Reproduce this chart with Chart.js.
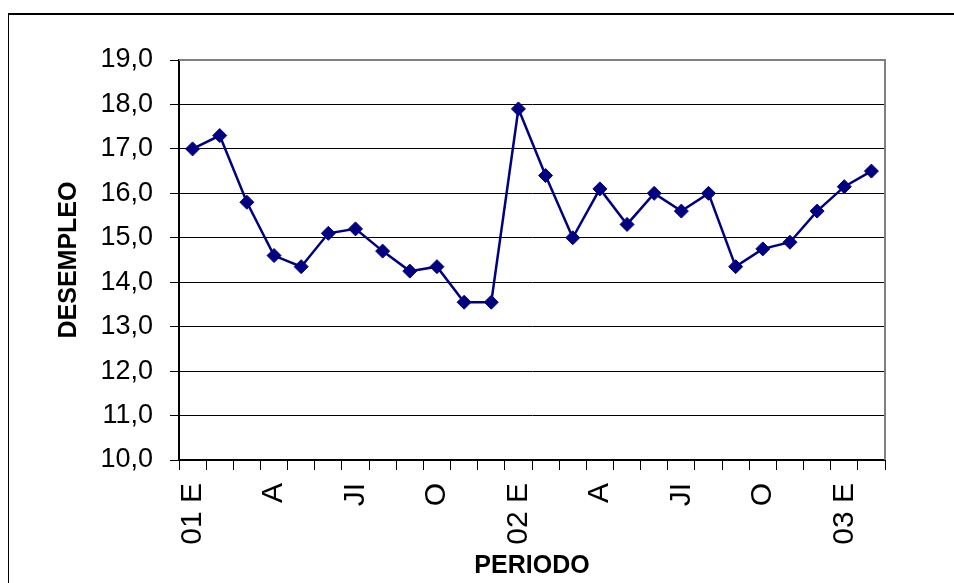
<!DOCTYPE html>
<html>
<head>
<meta charset="utf-8">
<script src="https://cdn.jsdelivr.net/npm/chart.js@4"></script>
<style>
  body { margin: 0; background: #fff; }
  #wrap { position: relative; width: 954px; height: 583px; overflow: hidden; }
  #frame { position: absolute; left: 8px; top: 13px; width: 1000px; height: 600px;
           border-left: 1px solid #000; border-top: 2px solid #000; }
  #desempleoChart { position: absolute; left: 0; top: 0; }
</style>
</head>
<body>
<div id="wrap">
  <div id="frame"></div>
  <canvas id="desempleoChart" width="954" height="583"></canvas>
</div>
<script>
// meses ene-2001 .. feb-2003, solo algunos llevan rotulo
const periodos = ['01 E', '', '', 'A', '', '', 'JI', '', '', 'O', '', '',
                  '02 E', '', '', 'A', '', '', 'JI', '', '', 'O', '', '',
                  '03 E', ''];
const desempleo = [17.0, 17.3, 15.8, 14.6, 14.35, 15.1, 15.2, 14.7, 14.25, 14.35, 13.55, 13.55,
                   17.9, 16.4, 15.0, 16.1, 15.3, 16.0, 15.6, 16.0, 14.35, 14.75, 14.9, 15.6,
                   16.15, 16.5];
const yMin = 10;
const yMax = 19;

const ctx = document.getElementById('desempleoChart');

const plotBorder = {
  id: 'plotBorder',
  beforeDatasetsDraw(chart) {
    const a = chart.chartArea;
    const c = chart.ctx;
    c.save();
    c.strokeStyle = '#808080';
    c.lineWidth = 2;
    c.beginPath();
    c.moveTo(a.left, a.top);
    c.lineTo(a.right, a.top);
    c.lineTo(a.right, a.bottom);
    c.stroke();
    c.restore();
  }
};

new Chart(ctx, {
  type: 'line',
  data: {
    labels: periodos,
    datasets: [{
      label: 'DESEMPLEO',
      data: desempleo,
      borderColor: '#000080',
      backgroundColor: '#000080',
      borderWidth: 2.5,
      tension: 0,
      pointStyle: 'rectRot',
      pointRadius: 7,
      pointBorderWidth: 1,
      pointBackgroundColor: '#000080',
      pointBorderColor: '#000080'
    }]
  },
  options: {
    responsive: false,
    animation: false,
    devicePixelRatio: 1,
    layout: { padding: { left: 54, top: 60, right: 69, bottom: 0 } },
    plugins: {
      legend: { display: false },
      tooltip: { enabled: false }
    },
    scales: {
      x: {
        offset: true,
        afterFit: (s) => { s.height = 123; },
        grid: { offset: true, drawOnChartArea: false, drawTicks: true, tickLength: 10, color: '#000', lineWidth: 1 },
        border: { color: '#000', width: 2 },
        ticks: {
          autoSkip: false, maxRotation: 90, minRotation: 90, padding: 13,
          color: '#000', font: { family: 'Liberation Sans, Arial, sans-serif', size: 30 }
        },
        title: {
          display: true, text: 'PERIODO', color: '#000',
          padding: { top: 0, bottom: 2 },
          font: { family: 'Liberation Sans, Arial, sans-serif', size: 25, weight: 'bold' }
        }
      },
      y: {
        min: yMin,
        max: yMax,
        afterFit: (s) => { s.width = 125; },
        grid: { color: '#000', lineWidth: 1, tickLength: 9 },
        border: { color: '#000', width: 2 },
        ticks: {
          stepSize: 1, padding: 17, color: '#000',
          font: { family: 'Liberation Sans, Arial, sans-serif', size: 27 },
          callback: (v) => v.toFixed(1).replace('.', ',')
        },
        title: {
          display: true, text: 'DESEMPLEO', color: '#000',
          padding: { top: 0, bottom: 0 },
          font: { family: 'Liberation Sans, Arial, sans-serif', size: 25, weight: 'bold' }
        }
      }
    }
  },
  plugins: [plotBorder]
});
</script>
</body>
</html>
